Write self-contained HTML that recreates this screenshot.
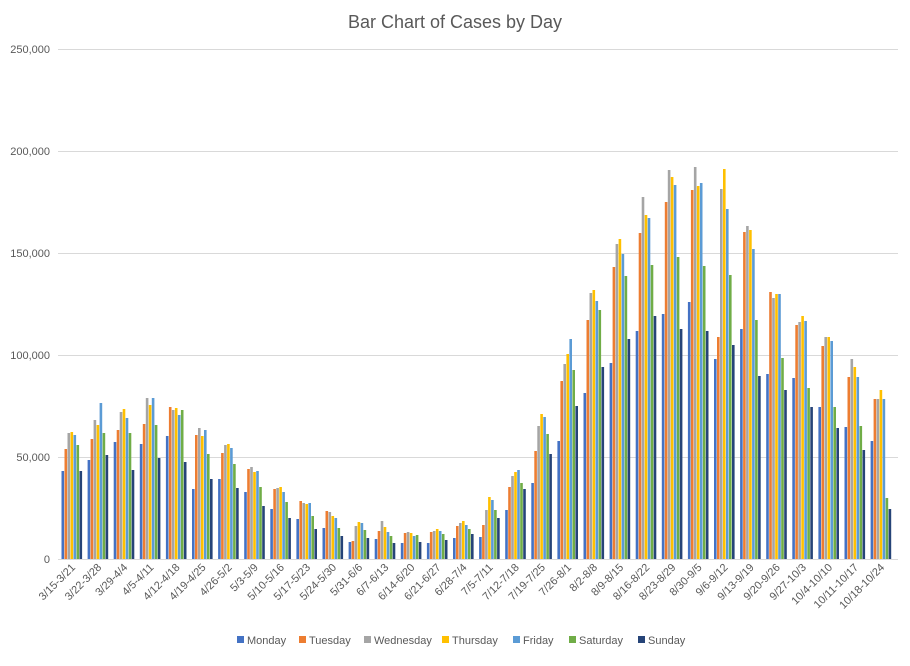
<!DOCTYPE html>
<html><head><meta charset="utf-8"><style>
html,body{margin:0;padding:0;background:#fff;}
svg text{font-family:"Liberation Sans",Arial,sans-serif;fill:#595959;}
</style></head><body>
<svg id="c" width="910" height="661" viewBox="0 0 910 661" xmlns="http://www.w3.org/2000/svg">
<rect width="910" height="661" fill="#fff"/>
<text x="455" y="28" font-size="18" text-anchor="middle">Bar Chart of Cases by Day</text>
<g stroke="#d9d9d9" stroke-width="1">
<line x1="58" x2="898" y1="49.5" y2="49.5"/><line x1="58" x2="898" y1="151.5" y2="151.5"/>
<line x1="58" x2="898" y1="253.5" y2="253.5"/><line x1="58" x2="898" y1="355.5" y2="355.5"/>
<line x1="58" x2="898" y1="457.5" y2="457.5"/><line x1="58" x2="898" y1="559.5" y2="559.5"/>
</g>
<g font-size="11" text-anchor="end">
<text x="50" y="53">250,000</text><text x="50" y="155">200,000</text><text x="50" y="257">150,000</text>
<text x="50" y="359">100,000</text><text x="50" y="461">50,000</text><text x="50" y="563">0</text>
</g>
<g id="bars"></g>
<g font-size="11" text-anchor="end">
<text transform="translate(76,568) rotate(-45)">3/15-3/21</text>
<text transform="translate(102.1,568) rotate(-45)">3/22-3/28</text>
<text transform="translate(128.2,568) rotate(-45)">3/29-4/4</text>
<text transform="translate(154.3,568) rotate(-45)">4/5-4/11</text>
<text transform="translate(180.4,568) rotate(-45)">4/12-4/18</text>
<text transform="translate(206.5,568) rotate(-45)">4/19-4/25</text>
<text transform="translate(232.6,568) rotate(-45)">4/26-5/2</text>
<text transform="translate(258.7,568) rotate(-45)">5/3-5/9</text>
<text transform="translate(284.8,568) rotate(-45)">5/10-5/16</text>
<text transform="translate(310.9,568) rotate(-45)">5/17-5/23</text>
<text transform="translate(337,568) rotate(-45)">5/24-5/30</text>
<text transform="translate(363.1,568) rotate(-45)">5/31-6/6</text>
<text transform="translate(389.2,568) rotate(-45)">6/7-6/13</text>
<text transform="translate(415.3,568) rotate(-45)">6/14-6/20</text>
<text transform="translate(441.4,568) rotate(-45)">6/21-6/27</text>
<text transform="translate(467.5,568) rotate(-45)">6/28-7/4</text>
<text transform="translate(493.6,568) rotate(-45)">7/5-7/11</text>
<text transform="translate(519.7,568) rotate(-45)">7/12-7/18</text>
<text transform="translate(545.8,568) rotate(-45)">7/19-7/25</text>
<text transform="translate(571.9,568) rotate(-45)">7/26-8/1</text>
<text transform="translate(598,568) rotate(-45)">8/2-8/8</text>
<text transform="translate(624.1,568) rotate(-45)">8/9-8/15</text>
<text transform="translate(650.2,568) rotate(-45)">8/16-8/22</text>
<text transform="translate(676.3,568) rotate(-45)">8/23-8/29</text>
<text transform="translate(702.4,568) rotate(-45)">8/30-9/5</text>
<text transform="translate(728.5,568) rotate(-45)">9/6-9/12</text>
<text transform="translate(754.6,568) rotate(-45)">9/13-9/19</text>
<text transform="translate(780.7,568) rotate(-45)">9/20-9/26</text>
<text transform="translate(806.8,568) rotate(-45)">9/27-10/3</text>
<text transform="translate(832.9,568) rotate(-45)">10/4-10/10</text>
<text transform="translate(859,568) rotate(-45)">10/11-10/17</text>
<text transform="translate(885.1,568) rotate(-45)">10/18-10/24</text>
</g>
<g font-size="11">
<rect x="237" y="636" width="7" height="7" fill="#4472C4"/><text x="247" y="644">Monday</text>
<rect x="299" y="636" width="7" height="7" fill="#ED7D31"/><text x="309" y="644">Tuesday</text>
<rect x="364" y="636" width="7" height="7" fill="#A5A5A5"/><text x="374" y="644">Wednesday</text>
<rect x="442" y="636" width="7" height="7" fill="#FFC000"/><text x="452" y="644">Thursday</text>
<rect x="513" y="636" width="7" height="7" fill="#5B9BD5"/><text x="523" y="644">Friday</text>
<rect x="569" y="636" width="7" height="7" fill="#70AD47"/><text x="579" y="644">Saturday</text>
<rect x="638" y="636" width="7" height="7" fill="#264478"/><text x="648" y="644">Sunday</text>
</g>
</svg>
<script>
var tops=[
[471,449,433,432,435,445,471],[460,439,420,425,403,433,455],[442,430,412,409,418,433,470],
[444,424,398,405,398,425,458],[436,407,410,408,415,410,462],[489,435,428,436,430,454,479],
[479,453,445,444,448,464,488],[492,469,467,472,471,487,506],[509,489,488,487,492,502,518],
[519,501,503,504,503,516,529],[528,511,512,516,518,528,536],[542,541,526,522,523,530,538],
[539,531,521,527,532,536,543],[543,533,532,533,536,535,542],[543,532,531,529,531,534,540],
[538,526,523,521,525,529,534],[537,525,510,497,500,510,518],[510,487,476,472,470,483,489],
[483,451,426,414,417,434,454],[441,381,364,354,339,370,406],[393,320,293,290,301,310,367],
[363,267,244,239,254,276,339],[331,233,197,215,218,265,316],[314,202,170,177,185,257,329],
[302,190,167,186,183,266,331],[359,337,189,169,209,275,345],[329,232,226,230,249,320,376],
[374,292,298,294,294,358,390],[378,325,322,316,321,388,407],[407,346,337,337,341,407,428],
[427,377,359,367,377,426,450],[441,399,399,390,399,498,509]];
var col=["#4472C4","#ED7D31","#A5A5A5","#FFC000","#5B9BD5","#70AD47","#264478"];
var g=document.getElementById("bars"),s="";
for(var n=0;n<32;n++){for(var k=0;k<7;k++){var x=61.5+n*26.1+k*3,t=tops[n][k];
s+='<rect x="'+x.toFixed(2)+'" y="'+t+'" width="2.6" height="'+(559-t)+'" fill="'+col[k]+'"/>';}}
g.innerHTML=s;
</script>
</body></html>
